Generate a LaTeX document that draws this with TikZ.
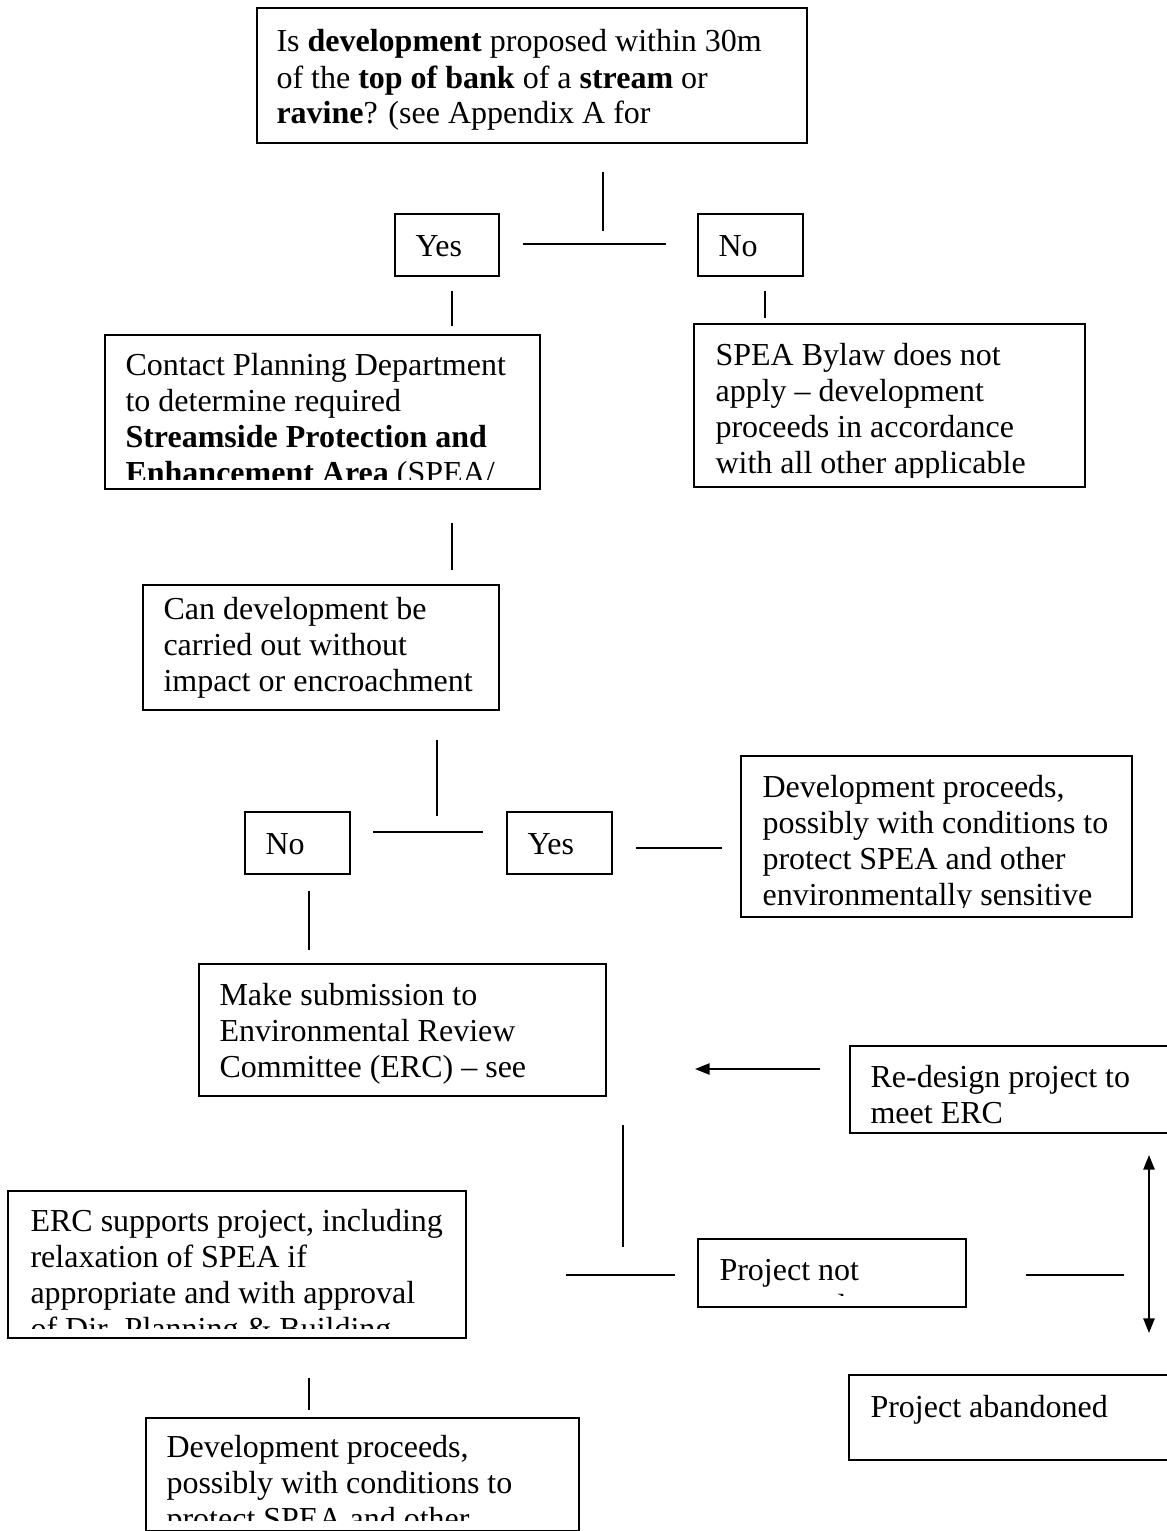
\documentclass[tikz,border=0pt]{standalone}
\usepackage{fontspec}
\setmainfont{Liberation Serif}[BoldFont={* Bold}]
\usetikzlibrary{arrows.meta,fit}
\newcommand\tlines[1]{\vtop{\baselineskip=13.5pt\lineskiplimit=-20pt\halign{##\hfil\cr#1\crcr}}}
\newcommand\mkbox[5]{%
  \coordinate (#1-nw) at (#2,#3);
  \coordinate (#1-se) at (#4,#5);
  \node[box, fit=(#1-nw)(#1-se)] (#1) {};}
\newcommand\mktext[5][3.4pt]{%
  \begin{scope}
    \clip (#2-nw) rectangle ([yshift=#1]#2-se);
    \node[txt] (#2-t) at (#3,#4) {\tlines{#5}};
  \end{scope}}
\tikzset{
  box/.style={draw, line width=0.75pt, inner sep=0pt},
  txt/.style={anchor=base west, inner sep=0pt, font=\fontsize{12pt}{13.5pt}\selectfont},
  conn/.style={line width=0.75pt},
  arr/.style={conn, -{Triangle[length=5.5pt,width=4.2pt]}},
  darr/.style={conn, {Triangle[length=5.5pt,width=4.2pt]}-{Triangle[length=5.5pt,width=4.2pt]}}
}
\begin{document}
\begin{tikzpicture}[x=0.375pt,y=-0.375pt]
\useasboundingbox (0,0) rectangle (1166,1531);
% boxes
\mkbox{top}{257}{8}{807}{143}
\mkbox{yesA}{395}{214}{499}{276}
\mkbox{noA}{698}{214}{803}{276}
\mkbox{contact}{105}{335}{540}{489}
\mkbox{bylaw}{694}{324}{1085}{487}
\mkbox{can}{143}{585}{499}{710}
\mkbox{noB}{245}{812}{350}{874}
\mkbox{yesB}{507}{812}{612}{874}
\mkbox{devR}{741}{756}{1132}{917}
\mkbox{make}{199}{964}{606}{1096}
\mkbox{redesign}{850}{1046}{1175}{1133}
\mkbox{erc}{8}{1191}{466}{1338}
\mkbox{notsup}{698}{1239}{966}{1307}
\mkbox{aband}{849}{1375}{1175}{1460}
\mkbox{devB}{146}{1418}{579}{1531}
% texts
\mktext{top}{276}{52}{Is \textbf{development} proposed within 30m\cr of the \textbf{top of bank} of a \textbf{stream} or\cr \textbf{ravine}? (see Appendix A for}
\mktext{yesA}{415}{256}{Yes}
\mktext{noA}{718}{256}{No}
\mktext{contact}{125}{375}{Contact Planning Department\cr to determine required\cr \textbf{Streamside Protection and}\cr \textbf{Enhancement Area} (SPEA/}
\mktext{bylaw}{715}{365}{SPEA Bylaw does not\cr apply – development\cr proceeds in accordance\cr with all other applicable}
\mktext{can}{163}{619}{Can development be\cr carried out without\cr impact or encroachment}
\mktext{noB}{265}{854}{No}
\mktext{yesB}{527}{854}{Yes}
\mktext{devR}{762}{797}{Development proceeds,\cr possibly with conditions to\cr protect SPEA and other\cr environmentally sensitive}
\mktext{make}{219}{1005}{Make submission to\cr Environmental Review\cr Committee (ERC) – see}
\mktext{redesign}{870}{1087}{Re-design project to\cr meet ERC}
\mktext{erc}{30}{1231}{ERC supports project, including\cr relaxation of SPEA if\cr appropriate and with approval\cr of Dir. Planning \& Building}
\mktext[4.4pt]{notsup}{719}{1280}{Project not\cr supported}
\mktext{aband}{870}{1417}{Project abandoned}
\mktext[4pt]{devB}{166}{1457}{Development proceeds,\cr possibly with conditions to\cr protect SPEA and other}
% connectors
\draw[conn] (603,172) -- (603,231);
\draw[conn] (523,244) -- (666,244);
\draw[conn] (452,291) -- (452,326);
\draw[conn] (765,291) -- (765,318);
\draw[conn] (452,523) -- (452,570);
\draw[conn] (437,740) -- (437,816);
\draw[conn] (373,832) -- (483,832);
\draw[conn] (636,848) -- (722,848);
\draw[conn] (309,891) -- (309,950);
\coordinate (arrS) at (820,1069);
\coordinate (arrE) at (695,1069);
\draw[arr] (arrS) -- (arrE);
\draw[conn] (623,1125) -- (623,1247);
\draw[conn] (566,1275) -- (675,1275);
\draw[conn] (1026,1275) -- (1124,1275);
\coordinate (dA) at (1149,1155);
\coordinate (dB) at (1149,1333);
\draw[darr] (dA) -- (dB);
\draw[conn] (309,1378) -- (309,1410);
\end{tikzpicture}
\end{document}
